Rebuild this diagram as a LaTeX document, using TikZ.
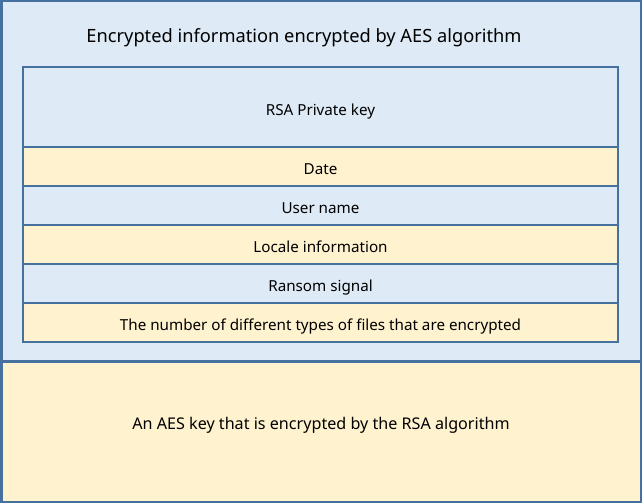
\documentclass[tikz,border=0pt]{standalone}
\usepackage{fontspec}
\setmainfont{Noto Sans}
\definecolor{bluefill}{HTML}{DEEAF6}
\definecolor{yellowfill}{HTML}{FFF2CF}
\definecolor{edge}{HTML}{46719F}
\begin{document}
\begin{tikzpicture}[x=0.75pt, y=-0.75pt, line width=1.5pt,
    box/.style = {draw=edge, rectangle, inner sep=0pt, text depth=0pt, font=\fontsize{11.4}{13}\selectfont},
    row/.style = {box, text height=12.5pt, minimum width=446.25pt, minimum height=29.25pt}]
        \useasboundingbox (0,0) rectangle (642,503);

        \node[box, fill=bluefill, minimum width=479.25pt, minimum height=270pt] (outer) at (321,181) {};
        \node[box, fill=yellowfill, minimum width=479.25pt, minimum height=105pt] (aeskey) at (321,432) {};
        \node[box, draw=none, font=\fontsize{12.1}{14}\selectfont] (aeskeytext) at (321,423) {An AES key that is encrypted by the RSA algorithm};
        \node[font=\fontsize{13.7}{16}\selectfont, text depth=0pt] (title) at (304,36) {Encrypted information encrypted by AES algorithm};

        \node[row, fill=bluefill, minimum height=60pt] (rsa) at (320.5,107) {RSA Private key};
        \node[row, fill=yellowfill] (date) at (320.5,166.5) {Date};
        \node[row, fill=bluefill] (user) at (320.5,205.5) {User name};
        \node[row, fill=yellowfill] (locale) at (320.5,244.5) {Locale information};
        \node[row, fill=bluefill] (ransom) at (320.5,283.5) {Ransom signal};
        \node[row, fill=yellowfill] (files) at (320.5,322.5) {The number of different types of files that are encrypted};

    \end{tikzpicture}
\end{document}
